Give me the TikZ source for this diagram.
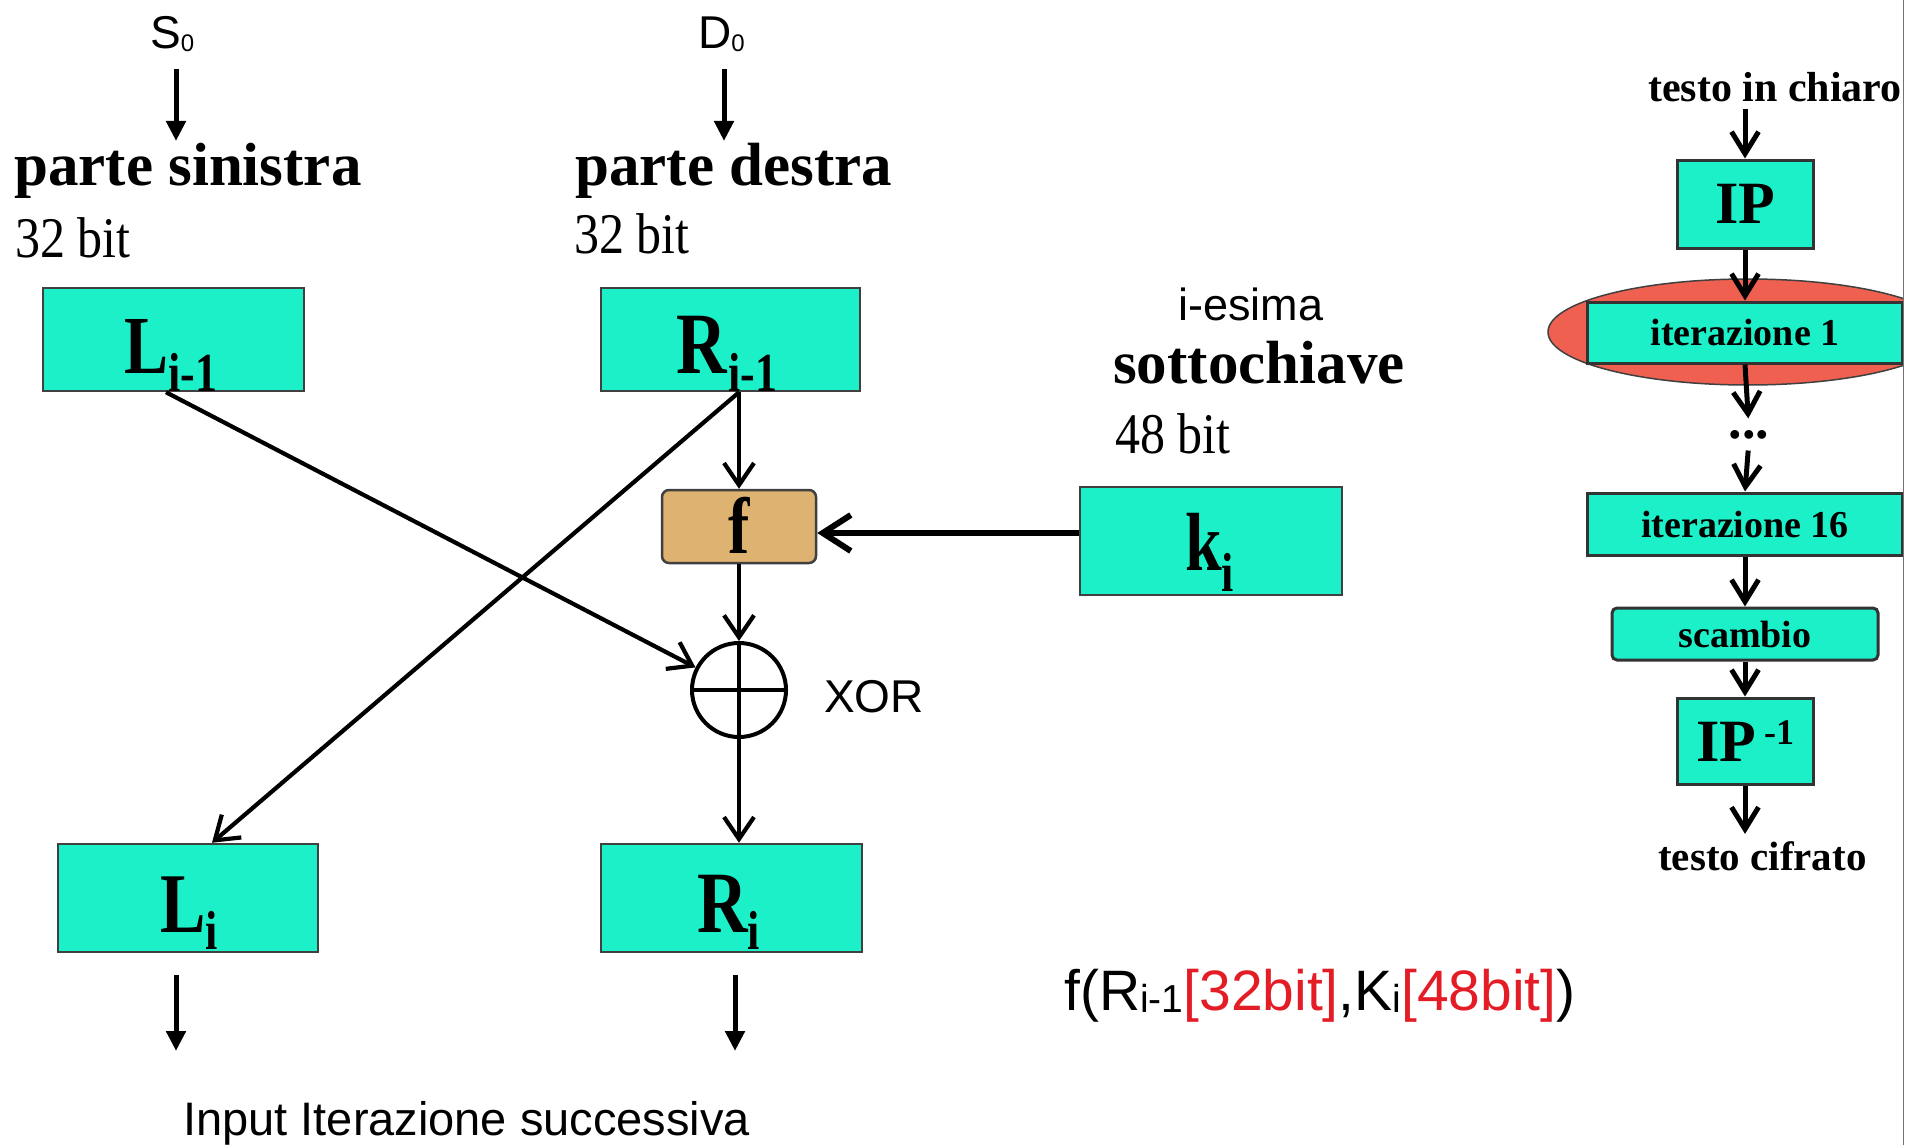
\documentclass[tikz,border=0pt]{standalone}
\usepackage{fontspec}
\setmainfont{Liberation Serif}
\setsansfont{Liberation Sans}
\usepackage{graphicx}
\usetikzlibrary{arrows.meta,calc}
\definecolor{boxcyan}{RGB}{28,240,200}
\definecolor{ftan}{RGB}{222,178,112}
\definecolor{ellred}{RGB}{240,96,80}
\definecolor{fred}{RGB}{228,28,38}
\newcommand{\fsz}[1]{\fontsize{#1}{#1}\selectfont}
\newcommand{\vst}[1]{\scalebox{1}[1.25]{#1}}
\newcommand{\vsm}[1]{\scalebox{1}[1.15]{#1}}
\begin{document}
\begin{tikzpicture}[x=1pt,y=-1pt,
  cbox/.style={draw=black!75, line width=2.5pt, fill=boxcyan, inner sep=0},
  rbox/.style={draw=black!80, line width=3pt, fill=boxcyan, inner sep=0},
  lbl/.style={inner sep=0, anchor=base west},
  bigarrow/.style={line width=5pt, -{Triangle[length=20pt,width=19pt]}},
  flow/.style={line width=4.2pt, -{Straight Barb[length=22pt,width=30pt]}},
  kflow/.style={line width=6pt, -{Straight Barb[length=28pt,width=36pt]}},
  rflow/.style={line width=5pt, -{Straight Barb[length=22pt,width=27pt]}},
  sansfont/.style={font=\sffamily}]
\useasboundingbox (0,0) rectangle (1905,1145);
\fill[white] (0,0) rectangle (1905,1145);

% ---------- left: Feistel round ----------
\node[lbl, sansfont] (S0) at (150,49) {\fsz{46}S\raisebox{-3pt}{\fsz{24}0}};
\node[lbl, sansfont] (D0) at (698,49) {\fsz{46}D\raisebox{-3pt}{\fsz{24}0}};
\coordinate (s0a) at (176,69); \coordinate (s0b) at (176,141);
\coordinate (d0a) at (724,69); \coordinate (d0b) at (724,141);
\draw[bigarrow] (s0a) -- (s0b);
\draw[bigarrow] (d0a) -- (d0b);

\node[lbl] (ps) at (14,185) {\fsz{61}\bfseries parte sinistra};
\node[lbl] (pd) at (575,185) {\fsz{61}\bfseries parte destra};
\node[lbl] (b32a) at (15,257) {\vsm{\fsz{50}32 bit}};
\node[lbl] (b32b) at (574,253) {\vsm{\fsz{50}32 bit}};

\node[cbox, minimum width=261pt, minimum height=103pt] (Lprev) at (173.5,339.5) {};
\node[cbox, minimum width=259pt, minimum height=103pt] (Rprev) at (730.5,339.5) {};
\node[lbl] (Lprevt) at (124,373) {\vst{\fsz{66}\bfseries L\raisebox{-15pt}{\fsz{44}i-1}}};
\node[lbl] (Rprevt) at (676,373) {\vst{\fsz{70}\bfseries R\kern2pt\raisebox{-15pt}{\fsz{44}i-1}}};

\node[draw=black!75, line width=2.5pt, fill=ftan, rounded corners=7pt, inner sep=0,
      minimum width=154pt, minimum height=73pt] (f) at (739,526.5) {};
\node[lbl] (ft) at (728,553) {\vst{\fsz{64}\bfseries f}};

\node[lbl, sansfont] (iesima) at (1178,320) {\fsz{45}i-esima};
\node[lbl] (sotto) at (1113,383) {\fsz{61}\bfseries sottochiave};
\node[lbl] (b48) at (1115,453) {\vsm{\fsz{50}48 bit}};
\node[cbox, minimum width=262pt, minimum height=108pt] (k) at (1211,541) {};
\node[lbl] (kt) at (1185,570) {\vst{\fsz{66}\bfseries k\raisebox{-17pt}{\fsz{44}i}}};

\node[circle, draw=black, line width=4pt, minimum size=94pt, inner sep=0,
      path picture={\draw[line width=4pt] (path picture bounding box.north) -- (path picture bounding box.south)
                      (path picture bounding box.west) -- (path picture bounding box.east);}] (xor) at (739,690) {};
\node[lbl, sansfont] (xort) at (824,712) {\fsz{46}XOR};

\node[cbox, minimum width=260pt, minimum height=108pt] (Li) at (188,898) {};
\node[cbox, minimum width=261pt, minimum height=108pt] (Ri) at (731.5,898) {};
\node[lbl] (Lit) at (160,932) {\vst{\fsz{68}\bfseries L\raisebox{-14pt}{\fsz{44}i}}};
\node[lbl] (Rit) at (697,932) {\vst{\fsz{70}\bfseries R\raisebox{-14pt}{\fsz{44}i}}};

\coordinate (lo1) at (176,975); \coordinate (lo2) at (176,1051);
\coordinate (ro1) at (735,975); \coordinate (ro2) at (735,1051);
\draw[bigarrow] (lo1) -- (lo2);
\draw[bigarrow] (ro1) -- (ro2);
\node[lbl, sansfont] (next) at (183,1135) {\fsz{47}Input Iterazione successiva};

% connectors
\coordinate (lsplit) at ($(Lprev.south)+(-7.5,0)$);
\coordinate (rsplit) at ($(Rprev.south)+(8.5,0)$);
\draw[flow] (lsplit) -- (xor);
\draw[flow] (rsplit) -- ($(Li.north)+(24,0)$);
\draw[flow] (rsplit) -- (f);
\draw[flow] (f) -- (xor);
\draw[flow] (xor) -- (Ri.north -| xor);
\draw[kflow] ($(k.west)+(0,-8)$) -- ($(f.east)+(0,6.5)$);

\node[lbl, sansfont] (formula) at (1064,1010) {\fsz{57}f(R\raisebox{-2pt}{\fsz{39}i-1}\textcolor{fred}{[32bit]},K\raisebox{-2pt}{\fsz{39}i}\textcolor{fred}{[48bit]})};

% ---------- right: DES overview ----------
\begin{scope}
\clip (0,0) rectangle (1903,1145);
\draw[fill=ellred, draw=black!75, line width=1.5pt] (1748,332) ellipse [x radius=200, y radius=53];
\end{scope}
\node[lbl] (tic) at (1648,102) {\fsz{42}\bfseries testo in chiaro};
\node[rbox, minimum width=136pt, minimum height=88pt] (IP) at (1745,204) {\fsz{60}\bfseries IP};
\node[rbox, minimum width=315pt, minimum height=61pt] (it1) at (1745,332.5) {\fsz{38}\bfseries iterazione 1};
\node[inner sep=0] (dots) at (1749,435) {\fsz{54}\bfseries ...};
\node[rbox, minimum width=315pt, minimum height=62pt] (it16) at (1745,524) {\fsz{38}\bfseries iterazione 16};
\node[rbox, rounded corners=5pt, minimum width=266pt, minimum height=52pt] (scb) at (1745,634) {\fsz{38}\bfseries scambio};
\node[rbox, minimum width=136pt, minimum height=86pt] (IPinv) at (1745,741) {\fsz{60}\bfseries IP\hspace{8pt}\raisebox{17pt}{\fsz{36}-1}};
\node[lbl] (tcf) at (1658,870) {\fsz{41}\bfseries testo cifrato};

\draw[rflow, shorten <=6pt] (tic.south -| IP.north) -- (IP.north);
\draw[rflow] (IP) -- (it1);
\draw[rflow, shorten >=12pt] (it1.south) -- (dots.north);
\draw[rflow, shorten <=11pt] (dots.south) -- (it16.north);
\draw[rflow] (it16) -- (scb);
\draw[rflow] (scb) -- (IPinv);
\draw[rflow, shorten >=7pt] (IPinv.south) -- (IPinv.south |- tcf.north);

\draw[black!55, line width=1.5pt] (1903.5,0) -- (1903.5,1145);
\end{tikzpicture}
\end{document}
